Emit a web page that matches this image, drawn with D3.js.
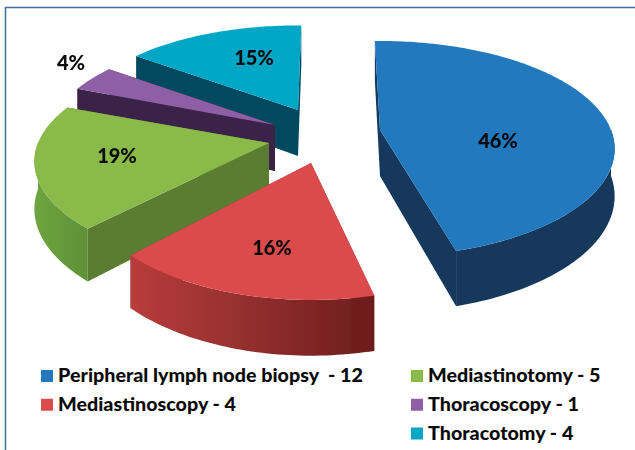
<!DOCTYPE html>
<html>
<head>
<meta charset="utf-8">
<script src="https://cdn.jsdelivr.net/npm/d3@7"></script>
<style>
  html, body { margin: 0; padding: 0; background: #fff; }
  svg { display: block; }
  text { font-family: Lato, "Open Sans", sans-serif; font-weight: 900; fill: #0a0a0a; white-space: pre; }
</style>
</head>
<body>
<div id="chart"></div>
<script>
var categories = ["Peripheral lymph node biopsy  - 12", "Mediastinoscopy - 4", "Mediastinotomy - 5", "Thoracoscopy - 1", "Thoracotomy - 4"];
var percents = [46, 16, 19, 4, 15];
var topColors = ["#2279bd", "#dc4c4c", "#8aba4a", "#8e5fa5", "#06a6c6"];
var sideColors = ["#12385c", "#8e2f2f", "#5a7d32", "#3a2248", "#064a5e"];

// how far each slice is pulled out of the pie, in px
var explodeX = [80, 11, -31, -25, -2];
var explodeY = [-10, 23, 3, -15, -30];
// small per slice corrections of the perspective, the drawing is not a true 3d pie
var spin = [-1.5, 1, 0, 0, 1];
var stretchX = [1, 0.98, 1, 0.98, 0.97];
var stretchY = [1, 1.08, 0.98, 1, 0.95];
// label offset from the slice tip, in px
var labelX = [118, -39, -152, -204, -44];
var labelY = [18, 92, 20, -55, -45];
// paint order, back slices first
var paintOrder = [4, 3, 2, 1, 0];
// legend rows
var legendCol = [0, 0, 1, 1, 1];
var legendRow = [0, 1, 0, 1, 2];

var width = 635, height = 450;
var cx = 300, cy = 140;
var rx = 231, ry = 104.6, persp = 0.175, depth = 46;

var svg = d3.select("#chart").append("svg")
    .attr("width", width)
    .attr("height", height);

var defs = svg.append("defs");
defs.append("filter").attr("id", "soft")
    .attr("x", "-5%").attr("y", "-5%").attr("width", "110%").attr("height", "110%")
  .append("feGaussianBlur").attr("stdDeviation", 0.6);

function wallGradient(id, stops) {
  var g = defs.append("linearGradient").attr("id", id);
  stops.forEach(function(s) {
    g.append("stop").attr("offset", s[0]).attr("stop-color", s[1]);
  });
}
wallGradient("wall1", [[0, "#b83c3b"], [0.45, "#96302f"], [1, "#6c1c1c"]]);
wallGradient("wall2", [[0, "#6ea53f"], [1, "#5f9038"]]);

// page frame, only top and left are visible in the picture
svg.append("path")
    .attr("d", d3.line()([[5.5, height], [5.5, 7.5], [width, 7.5]]))
    .attr("fill", "none")
    .attr("stroke", "#3f6f9f")
    .attr("stroke-width", 1.5);

// flat disc point -> screen offset, nearer points get bigger
function project(a, i) {
  var u = Math.sin(a), v = -Math.cos(a);
  var s = 1 / (1 - persp * v);
  return { x: rx * stretchX[i] * u * s, y: ry * stretchY[i] * v * s, s: s };
}

var line = d3.line().x(function(d) { return d[0]; }).y(function(d) { return d[1]; });

var slices = d3.pie().sort(null).value(function(d) { return d; })(percents);

var pieG = svg.append("g").attr("filter", "url(#soft)");

function arcAngles(a0, a1) {
  var n = Math.max(2, Math.ceil((a1 - a0) / 0.02));
  return d3.range(n + 1).map(function(k) { return a0 + (a1 - a0) * k / n; });
}

paintOrder.forEach(function(i) {
  var d = slices[i];
  var turn = spin[i] * Math.PI / 180;
  var a0 = d.startAngle + turn, a1 = d.endAngle + turn;
  var ox = cx + explodeX[i], oy = cy + explodeY[i];
  var g = pieG.append("g").attr("transform", "translate(" + ox + "," + oy + ")");
  var tip = [0, 0];

  function corner(a, down) {
    var p = project(a, i);
    return [p.x, p.y + (down ? depth * p.s : 0)];
  }

  // the two cut faces, the one turned away from us first
  var cuts = [
    { a: a0, n: -Math.cos(a0 - Math.PI / 2) },
    { a: a1, n: -Math.cos(a1 + Math.PI / 2) }
  ].sort(function(p, q) { return p.n - q.n; });

  cuts.forEach(function(c) {
    g.append("path")
        .attr("d", line([tip, corner(c.a, false), corner(c.a, true), [0, depth]]) + "Z")
        .attr("fill", sideColors[i]);
  });

  // outer wall, only the part facing front
  var w0 = Math.max(a0, Math.PI / 2), w1 = Math.min(a1, Math.PI * 1.5);
  if (w1 > w0) {
    var angles = arcAngles(w0, w1);
    var upper = angles.map(function(a) { return corner(a, false); });
    var lower = angles.slice().reverse().map(function(a) { return corner(a, true); });
    var wallFill = (i === 1 || i === 2) ? "url(#wall" + i + ")" : sideColors[i];
    g.append("path")
        .attr("d", line(upper.concat(lower)) + "Z")
        .attr("fill", wallFill);
  }

  // top face
  var rim = arcAngles(a0, a1).map(function(a) { return corner(a, false); });
  g.append("path")
      .attr("d", line([tip].concat(rim)) + "Z")
      .attr("fill", topColors[i]);
});

// percent labels
percents.forEach(function(p, i) {
  svg.append("text")
      .attr("x", cx + explodeX[i] + labelX[i])
      .attr("y", cy + explodeY[i] + labelY[i])
      .attr("text-anchor", "middle")
      .style("font-size", "20px")
      .text(p + "%");
});

// legend
var colX = d3.scaleOrdinal().domain([0, 1]).range([41, 411]);
var rowY = d3.scaleLinear().domain([0, 2]).range([370, 427.5]);

var legend = svg.selectAll(".legend")
    .data(categories)
    .enter().append("g")
    .attr("class", "legend")
    .attr("transform", function(d, i) {
      return "translate(" + colX(legendCol[i]) + "," + rowY(legendRow[i]) + ")";
    });

legend.append("rect")
    .attr("width", 12)
    .attr("height", 12)
    .attr("fill", function(d, i) { return topColors[i]; });

legend.append("text")
    .attr("x", 17)
    .attr("y", 12)
    .style("font-size", "19.7px")
    .text(function(d) { return d; });
</script>
</body>
</html>
